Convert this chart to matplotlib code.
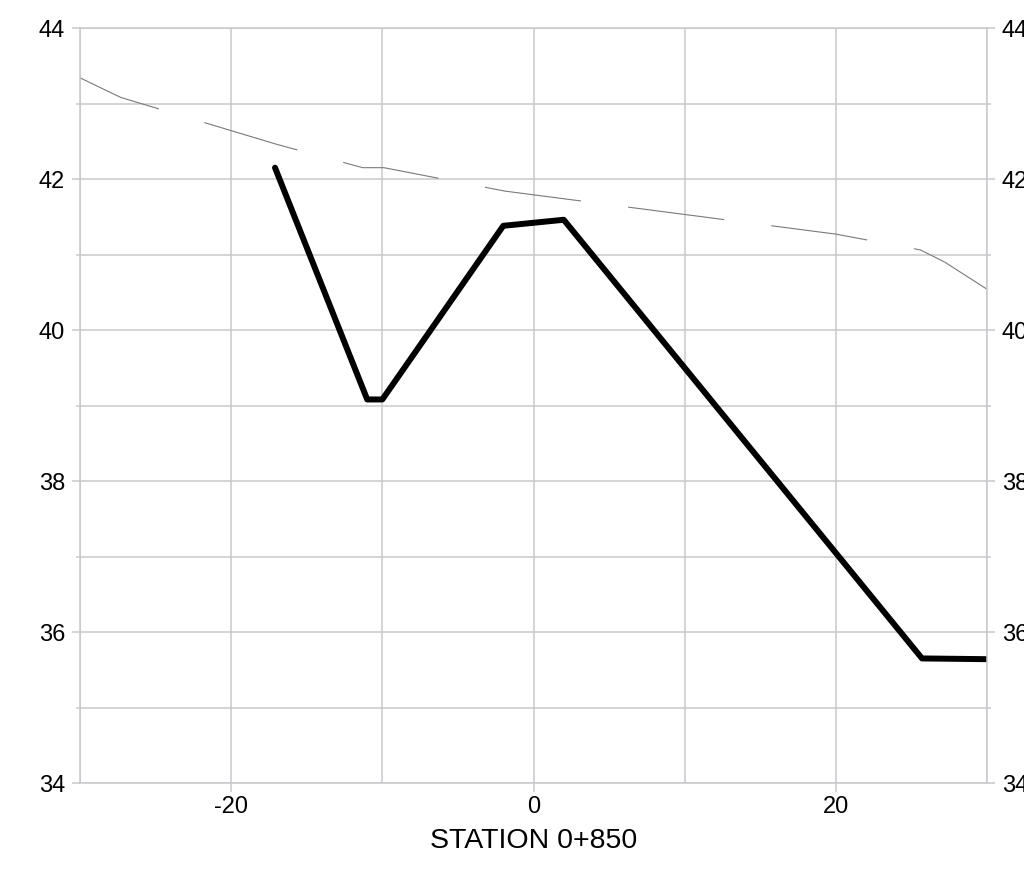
import matplotlib
matplotlib.use("Agg")
import matplotlib.pyplot as plt
from matplotlib.ticker import MultipleLocator, FixedLocator

# Data
ground_x = [-30, -27.3, -17.0, -11.3, -9.9, -1.9, 20.0, 25.6, 27.2, 30.0]
ground_y = [43.34, 43.08, 42.46, 42.15, 42.15, 41.84, 41.27, 41.06, 40.90, 40.54]

profile_x = [-17.1, -11.0, -10.0, -2.0, 2.0, 25.7, 30.0]
profile_y = [42.15, 39.08, 39.08, 41.38, 41.46, 35.65, 35.64]

x_major = [-20, 0, 20]
x_minor = [-30, -10, 10, 30]
xlabel = "STATION 0+850"

plt.rcParams['font.family'] = ['Liberation Sans Narrow', 'Liberation Sans', 'DejaVu Sans']
plt.rcParams['lines.scale_dashes'] = False
plt.rcParams['axes.unicode_minus'] = False

grid_c = '#c8c9cc'
fig = plt.figure(figsize=(10.24, 8.73), dpi=100)
ax = fig.add_axes([80/1024, 1-783/873, (987-80)/1024, (783-28)/873])

ax.set_xlim(-30, 30)
ax.set_ylim(34, 44)

ax.xaxis.set_major_locator(FixedLocator(x_major))
ax.xaxis.set_minor_locator(FixedLocator(x_minor))
ax.yaxis.set_major_locator(MultipleLocator(2))
ax.yaxis.set_minor_locator(MultipleLocator(1))

ax.grid(True, which='both', color=grid_c, linewidth=1.1)
ax.set_axisbelow(True)
for s in ax.spines.values():
    s.set_color(grid_c)
    s.set_linewidth(1.1)

ax.tick_params(axis='x', which='major', length=6.5, width=1.1, color=grid_c,
               labelsize=17, pad=3)
ax.tick_params(axis='x', which='minor', length=0)
ax.tick_params(axis='y', which='major', length=5.8, width=1.1, color=grid_c,
               labelsize=17, pad=5, right=True, labelright=True)
ax.tick_params(axis='y', which='minor', length=2.9, width=1.1, color=grid_c,
               right=True)

ax.plot(ground_x, ground_y, color='#7a7a7a', linewidth=0.8,
        linestyle=(8.6, (69.8, 34.2)))
ax.plot(profile_x, profile_y, color='black', linewidth=4.3,
        solid_capstyle='round', solid_joinstyle='round')

ax.set_xlabel(xlabel, fontsize=20.5, labelpad=7)

fig.savefig('out.png', dpi=100)
